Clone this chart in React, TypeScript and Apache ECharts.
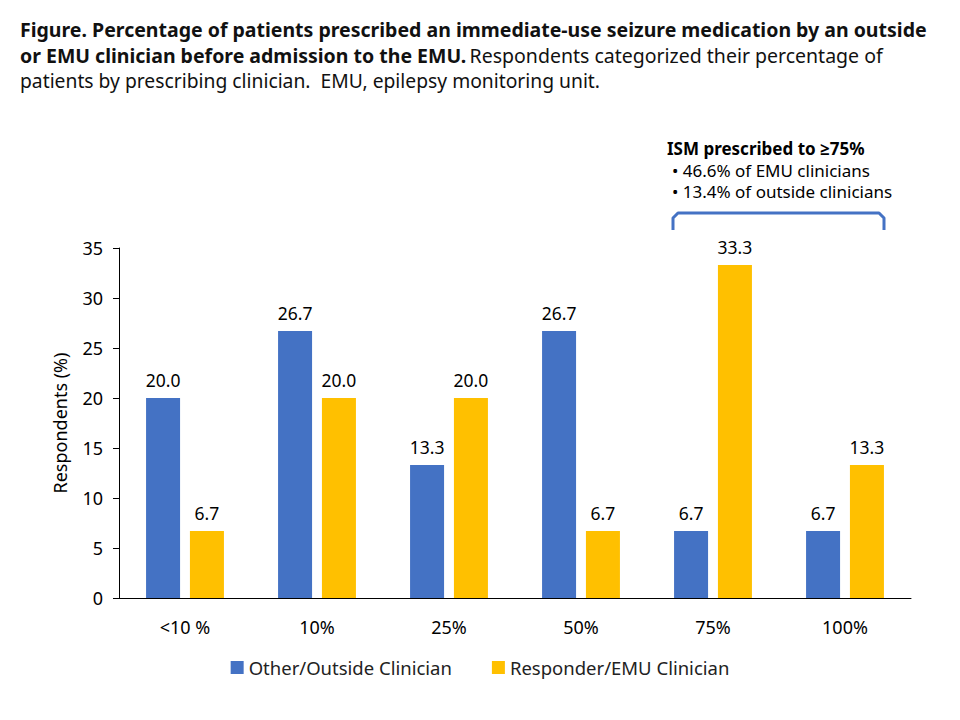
import React, { useEffect, useRef } from "react";
import * as echarts from "echarts";

const categories = ["<10 %", "10%", "25%", "50%", "75%", "100%"];
const outsideValues = [20.0, 26.7, 13.3, 26.7, 6.7, 6.7];
const emuValues = [6.7, 20.0, 20.0, 6.7, 33.3, 13.3];
const seriesNames = ["Other/Outside Clinician", "Responder/EMU Clinician"];
const yTicks = { min: 0, max: 35, interval: 5 };

const FONT = "'Noto Sans', 'Open Sans', sans-serif";

export default function App() {
  const ref = useRef<HTMLDivElement>(null);
  useEffect(() => {
    if (!ref.current) return;
    const chart = echarts.init(ref.current, null, { renderer: "svg" });
    const labelStyle = {
      show: true,
      position: "top" as const,
      distance: 9,
      fontSize: 17.5,
      color: "#000",
      fontFamily: FONT,
      formatter: (p: any) => Number(p.value).toFixed(1),
    };
    chart.setOption({
      animation: false,
      backgroundColor: "#fff",
      textStyle: { fontFamily: FONT },
      grid: { left: 119, right: 49, top: 248, bottom: 122, containLabel: false },
      legend: {
        bottom: 38,
        left: "center",
        itemWidth: 13,
        itemHeight: 13,
        itemGap: 40,
        icon: "rect",
        textStyle: { fontSize: 18.5, color: "#222", fontFamily: FONT },
        data: seriesNames,
      },
      xAxis: {
        type: "category",
        data: categories,
        axisLine: { lineStyle: { color: "#000", width: 1 } },
        axisTick: { show: false },
        axisLabel: { fontSize: 18, color: "#000", margin: 20, fontFamily: FONT },
      },
      yAxis: {
        type: "value",
        min: yTicks.min,
        max: yTicks.max,
        interval: yTicks.interval,
        name: "Respondents (%)",
        nameLocation: "middle",
        nameGap: 50,
        nameTextStyle: { fontSize: 18, color: "#000", fontFamily: FONT },
        axisLine: { show: true, lineStyle: { color: "#000", width: 1 } },
        axisTick: { show: true, length: 6, lineStyle: { color: "#000" } },
        splitLine: { show: false },
        axisLabel: { fontSize: 18, color: "#000", margin: 16, fontFamily: FONT },
      },
      series: [
        {
          name: seriesNames[0],
          type: "bar",
          data: outsideValues,
          itemStyle: { color: "#4472C4" },
          barGap: "29%",
          barCategoryGap: "41%",
          label: labelStyle,
        },
        {
          name: seriesNames[1],
          type: "bar",
          data: emuValues,
          itemStyle: { color: "#FFC000" },
          label: labelStyle,
        },
      ],
      graphic: [
        {
          type: "text",
          left: 20,
          top: 19,
          style: {
            text: "Figure. Percentage of patients prescribed an immediate-use seizure medication by an outside",
            font: `bold 19.5px ${FONT}`,
            fill: "#111",
          },
        },
        {
          type: "text",
          left: 20,
          top: 45,
          style: {
            text: "{b|or EMU clinician before admission to the EMU.} {n|Respondents categorized their percentage of}",
            rich: {
              b: { font: `bold 19.5px ${FONT}`, fill: "#111" },
              n: { font: `19.5px ${FONT}`, fill: "#111" },
            },
          },
        },
        {
          type: "text",
          left: 20,
          top: 71,
          style: {
            text: "patients by prescribing clinician.  EMU, epilepsy monitoring unit.",
            font: `19.3px ${FONT}`,
            fill: "#111",
          },
        },
        {
          type: "text",
          left: 667,
          top: 138,
          style: {
            text: "ISM prescribed to ≥75%",
            font: `bold 17px ${FONT}`,
            lineHeight: 20,
            fill: "#000",
          },
        },
        {
          type: "text",
          left: 672,
          top: 160,
          style: {
            text: "• 46.6% of EMU clinicians",
            font: `17px ${FONT}`,
            lineHeight: 20,
            fill: "#000",
          },
        },
        {
          type: "text",
          left: 672,
          top: 181,
          style: {
            text: "• 13.4% of outside clinicians",
            font: `17px ${FONT}`,
            lineHeight: 20,
            fill: "#000",
          },
        },
        {
          type: "polyline",
          shape: {
            points: [
              [673, 230],
              [673, 218],
              [678, 213],
              [879, 213],
              [884, 218],
              [884, 230],
            ],
          },
          style: { stroke: "#4472C4", lineWidth: 3, fill: "none", lineJoin: "round" },
        },
      ],
    });
    return () => chart.dispose();
  }, []);
  return (
    <div
      ref={ref}
      style={{ position: "fixed", left: 0, top: 0, width: 960, height: 720 }}
    />
  );
}
